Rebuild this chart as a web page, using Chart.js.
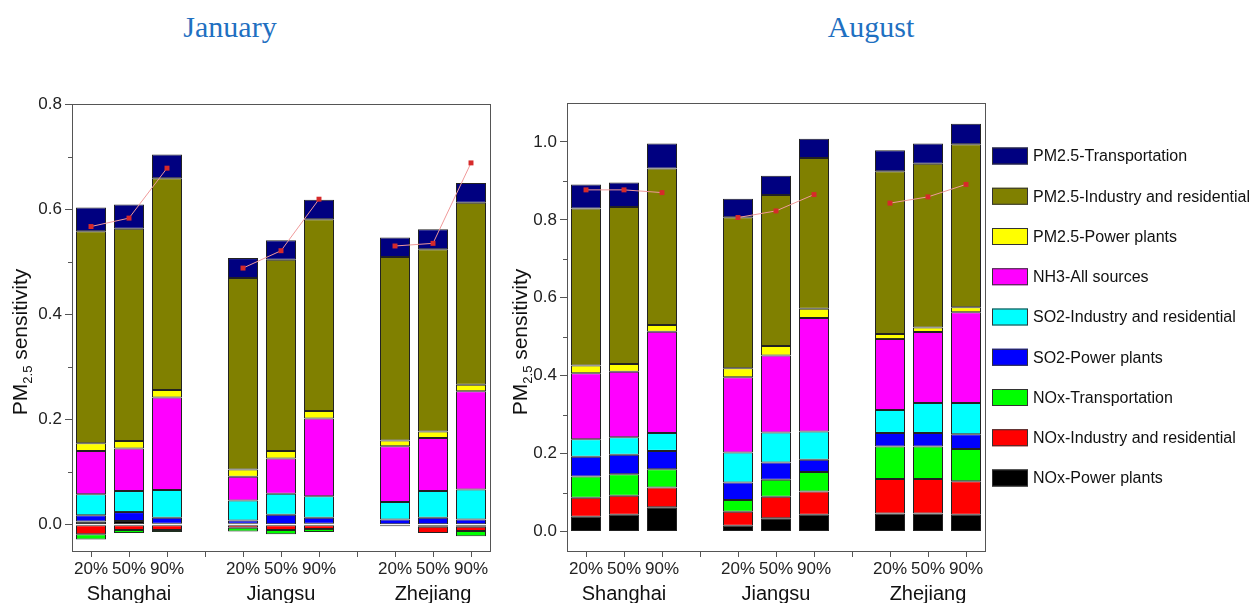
<!DOCTYPE html>
<html>
<head>
<meta charset="utf-8">
<script src="https://cdn.jsdelivr.net/npm/chart.js@4/dist/chart.umd.min.js"></script>
<style>
  body { margin: 0; background: #fff; width: 1256px; height: 603px; position: relative; overflow: hidden; }
  .month { position: absolute; top: 12px; font: 30px "Liberation Serif", "Times New Roman", serif; line-height: 30px; color: #1f70c1; transform: translateX(-50%); white-space: nowrap; }
  #janBox { position: absolute; left: 0; top: 0; width: 500px; height: 603px; }
  #augBox { position: absolute; left: 500px; top: 0; width: 756px; height: 603px; }
</style>
</head>
<body>
<div class="month" style="left:230px">January</div>
<div class="month" style="left:871px">August</div>
<div id="janBox"><canvas id="janChart"></canvas></div>
<div id="augBox"><canvas id="augChart"></canvas></div>

<script>
// bar slots: 3 scenarios per province, empty slot between provinces
const categories = ['20%', '50%', '90%', '', '20%', '50%', '90%', '', '20%', '50%', '90%'];
const groupLabels = ['', 'Shanghai', '', '', '', 'Jiangsu', '', '', '', 'Zhejiang', ''];

// y ticks (labels only on every second one)
const janTicks = [0, 0.1, 0.2, 0.3, 0.4, 0.5, 0.6, 0.7, 0.8];
const augTicks = [0, 0.1, 0.2, 0.3, 0.4, 0.5, 0.6, 0.7, 0.8, 0.9, 1.0];

// stacked from the bottom up
const sourceNames = [
  'NOx-Power plants', 'NOx-Industry and residential', 'NOx-Transportation',
  'SO2-Power plants', 'SO2-Industry and residential', 'NH3-All sources',
  'PM2.5-Power plants', 'PM2.5-Industry and residential', 'PM2.5-Transportation'
];
const sourceColors = ['#000000', '#ff0000', '#00ff00', '#0000ff', '#00ffff', '#ff00ff', '#ffff00', '#808000', '#000080'];

// January
const janNOxPower   = [0.006, 0.007, 0.002, null, 0.002, 0.001, 0.002, null, -0.003, -0.004, -0.004];
const janNOxInd     = [-0.018, -0.010, -0.010, null, -0.006, -0.010, -0.008, null, 0, -0.012, -0.008];
const janNOxTrans   = [-0.010, -0.006, -0.004, null, -0.007, -0.008, -0.006, null, 0, 0, -0.010];
const janSO2Power   = [0.012, 0.017, 0.011, null, 0.006, 0.018, 0.011, null, 0.010, 0.013, 0.010];
const janSO2Ind     = [0.040, 0.040, 0.053, null, 0.038, 0.040, 0.041, null, 0.033, 0.051, 0.057];
const janNH3        = [0.082, 0.081, 0.176, null, 0.045, 0.067, 0.148, null, 0.106, 0.101, 0.187];
const janPMPower    = [0.015, 0.014, 0.014, null, 0.014, 0.014, 0.014, null, 0.011, 0.012, 0.012];
const janPMInd      = [0.403, 0.404, 0.403, null, 0.364, 0.364, 0.365, null, 0.349, 0.347, 0.346];
const janPMTrans    = [0.045, 0.046, 0.045, null, 0.038, 0.037, 0.037, null, 0.037, 0.038, 0.038];
const janPoints     = [0.567, 0.583, 0.678, null, 0.488, 0.521, 0.619, null, 0.530, 0.535, 0.688];

// August
const augNOxPower   = [0.038, 0.043, 0.062, null, 0.015, 0.034, 0.043, null, 0.046, 0.046, 0.043];
const augNOxInd     = [0.049, 0.049, 0.051, null, 0.036, 0.055, 0.060, null, 0.089, 0.089, 0.086];
const augNOxTrans   = [0.054, 0.055, 0.047, null, 0.030, 0.044, 0.050, null, 0.083, 0.083, 0.083];
const augSO2Power   = [0.051, 0.050, 0.047, null, 0.045, 0.044, 0.031, null, 0.035, 0.035, 0.038];
const augSO2Ind     = [0.045, 0.045, 0.046, null, 0.077, 0.077, 0.073, null, 0.059, 0.077, 0.080];
const augNH3        = [0.169, 0.168, 0.260, null, 0.193, 0.198, 0.291, null, 0.182, 0.182, 0.233];
const augPMPower    = [0.020, 0.020, 0.017, null, 0.023, 0.024, 0.024, null, 0.013, 0.012, 0.013];
const augPMInd      = [0.403, 0.403, 0.402, null, 0.388, 0.388, 0.387, null, 0.418, 0.420, 0.418];
const augPMTrans    = [0.062, 0.063, 0.064, null, 0.047, 0.049, 0.049, null, 0.054, 0.052, 0.053];
const augPoints     = [0.877, 0.877, 0.870, null, 0.806, 0.823, 0.865, null, 0.843, 0.859, 0.891];

const janSeries = [janNOxPower, janNOxInd, janNOxTrans, janSO2Power, janSO2Ind, janNH3, janPMPower, janPMInd, janPMTrans];
const augSeries = [augNOxPower, augNOxInd, augNOxTrans, augSO2Power, augSO2Ind, augNH3, augPMPower, augPMInd, augPMTrans];

Chart.defaults.font.family = '"Liberation Sans", Arial, sans-serif';
Chart.defaults.color = '#222';

const isMajor = v => Math.round(v * 10) % 2 === 0;

function buildDatasets(series, points) {
  const sets = series.map((vals, i) => ({
    type: 'bar',
    label: sourceNames[i],
    data: vals,
    stack: 'src',
    backgroundColor: sourceColors[i],
    borderColor: '#222',
    borderWidth: 1,
    borderSkipped: false,
    barPercentage: 0.79,
    categoryPercentage: 1,
    order: 2
  }));
  sets.push({
    type: 'line',
    label: 'total',
    data: points,
    stack: 'marks',
    borderColor: '#f09a9a',
    borderWidth: 1,
    pointStyle: 'rect',
    pointRadius: 3.5,
    pointBackgroundColor: '#d62a2a',
    pointBorderWidth: 0,
    spanGaps: false,
    order: 0
  });
  return sets;
}

// box around the plot area + short minor ticks on y
const framePlugin = {
  id: 'frame',
  afterDraw(chart) {
    const a = chart.chartArea, ctx = chart.ctx;
    const y = chart.scales.y;
    ctx.save();
    ctx.strokeStyle = '#555';
    ctx.lineWidth = 1;
    ctx.strokeRect(Math.round(a.left) + 0.5, Math.round(a.top) + 0.5, Math.round(a.right - a.left), Math.round(a.bottom - a.top));
    ctx.beginPath();
    y.ticks.forEach(t => {
      if (isMajor(t.value)) return;
      const py = Math.round(y.getPixelForValue(t.value)) + 0.5;
      ctx.moveTo(a.left - 4, py);
      ctx.lineTo(a.left, py);
    });
    ctx.stroke();
    ctx.restore();
  }
};

// rotated y title with subscript
const yTitlePlugin = {
  id: 'yTitle',
  afterDraw(chart, args, opts) {
    const ctx = chart.ctx;
    ctx.save();
    ctx.translate(opts.x, opts.y);
    ctx.rotate(-Math.PI / 2);
    ctx.fillStyle = '#111';
    ctx.textBaseline = 'alphabetic';
    const big = '21px "Liberation Sans", Arial, sans-serif';
    const small = '13px "Liberation Sans", Arial, sans-serif';
    ctx.font = big;
    const w1 = ctx.measureText('PM').width;
    const w3 = ctx.measureText(' sensitivity').width;
    ctx.font = small;
    const w2 = ctx.measureText('2.5').width;
    let x = -(w1 + w2 + w3) / 2;
    ctx.font = big;
    ctx.fillText('PM', x, 7);
    x += w1;
    ctx.font = small;
    ctx.fillText('2.5', x, 12);
    x += w2;
    ctx.font = big;
    ctx.fillText(' sensitivity', x, 7);
    ctx.restore();
  }
};

// legend on the right, top item is the last stacked source
const sideLegendPlugin = {
  id: 'sideLegend',
  afterDraw(chart, args, opts) {
    const ctx = chart.ctx;
    const bars = chart.data.datasets.filter(d => d.type === 'bar').slice().reverse();
    ctx.save();
    ctx.font = '16px "Liberation Sans", Arial, sans-serif';
    ctx.textBaseline = 'middle';
    bars.forEach((d, i) => {
      const cy = opts.y + i * opts.step;
      ctx.fillStyle = d.backgroundColor;
      ctx.fillRect(opts.x, cy - 8.5, 36, 17);
      ctx.strokeStyle = '#333';
      ctx.lineWidth = 1;
      ctx.strokeRect(opts.x + 0.5, cy - 8.5 + 0.5, 35, 16);
      ctx.fillStyle = '#111';
      ctx.fillText(d.label, opts.x + 41, cy + 1);
    });
    ctx.restore();
  }
};

function makeOptions(yMax, yTicks, yWidth, padding, titleX, legendOpts) {
  return {
    responsive: false,
    animation: false,
    layout: { padding: padding },
    plugins: {
      legend: { display: false },
      tooltip: { enabled: false },
      yTitle: { x: titleX, y: 342 },
      sideLegend: legendOpts
    },
    scales: {
      x: {
        stacked: true,
        offset: true,
        weight: 0,
        afterFit: s => { s.height = 29; },
        grid: { drawOnChartArea: false, offset: false, tickLength: 6, color: '#555' },
        border: { color: '#555' },
        ticks: { font: { size: 17 }, padding: 2, autoSkip: false, maxRotation: 0, color: '#222' }
      },
      x2: {
        type: 'category',
        labels: groupLabels,
        position: 'bottom',
        offset: true,
        weight: 1,
        afterFit: s => { s.height = 23; },
        grid: { display: false, drawTicks: false },
        border: { display: false },
        ticks: { font: { size: 20 }, padding: 2, autoSkip: false, maxRotation: 0, color: '#111' }
      },
      y: {
        stacked: true,
        min: -0.05,
        max: yMax,
        afterFit: s => { s.width = yWidth; },
        afterBuildTicks: s => { s.ticks = yTicks.map(v => ({ value: v })); },
        grid: {
          drawOnChartArea: false,
          tickLength: 7,
          color: '#555',
          tickColor: c => (c.tick && isMajor(c.tick.value) ? '#555' : 'rgba(0,0,0,0)')
        },
        border: { color: '#555' },
        ticks: {
          font: { size: 17 },
          padding: 3,
          color: '#222',
          autoSkip: false,
          callback: v => (isMajor(v) ? v.toFixed(1) : '')
        }
      }
    }
  };
}

const janCanvas = document.getElementById('janChart');
janCanvas.width = 500; janCanvas.height = 603;
new Chart(janCanvas, {
  data: { labels: categories, datasets: buildDatasets(janSeries, janPoints) },
  options: makeOptions(0.8, janTicks, 72, { top: 104, right: 10, bottom: 0, left: 0 }, 20, { x: -1000, y: 0, step: 0 }),
  plugins: [framePlugin, yTitlePlugin]
});

const augCanvas = document.getElementById('augChart');
augCanvas.width = 756; augCanvas.height = 603;
new Chart(augCanvas, {
  data: { labels: categories, datasets: buildDatasets(augSeries, augPoints) },
  options: makeOptions(1.1, augTicks, 67, { top: 103, right: 271, bottom: 0, left: 0 }, 20, { x: 492, y: 156, step: 40.25 }),
  plugins: [framePlugin, yTitlePlugin, sideLegendPlugin]
});
</script>
</body>
</html>
